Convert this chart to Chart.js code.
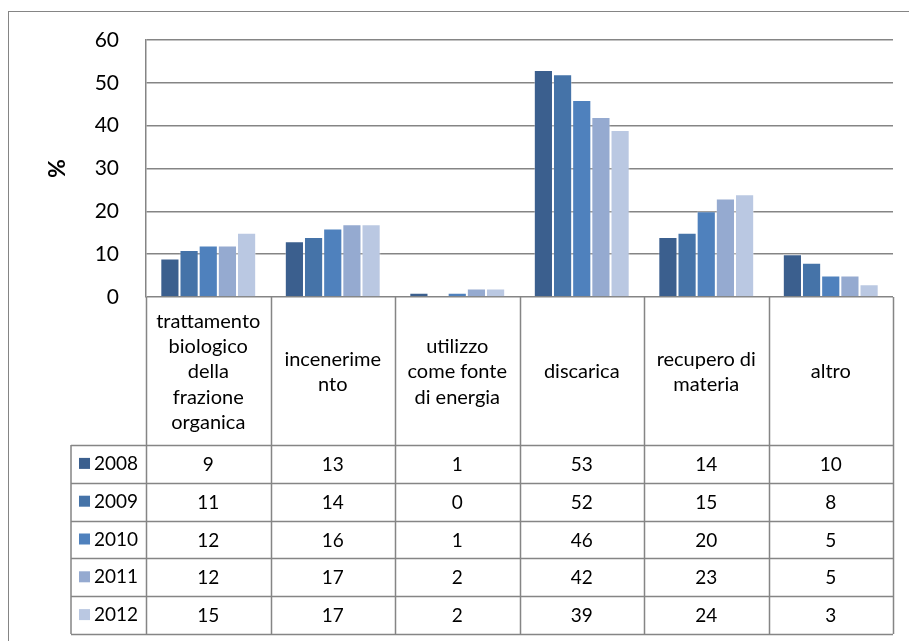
<!DOCTYPE html>
<html lang="it">
<head>
  <meta charset="UTF-8">
  <title>Rifiuti urbani per tipo di gestione</title>
  <script src="https://cdn.jsdelivr.net/npm/chart.js"></script>
  <style>
    body { margin: 0; background: #fff; }
    #box { width: 909px; height: 641px; }
  </style>
</head>
<body>
<div id="box">
  <canvas id="myChart" width="909" height="641"></canvas>
</div>

<script>
// categorie (etichette gia' spezzate su piu' righe come nella tabella)
const categorie = [
  ['trattamento', 'biologico', 'della', 'frazione', 'organica'],
  ['incenerime', 'nto'],
  ['utilizzo', 'come fonte', 'di energia'],
  ['discarica'],
  ['recupero di', 'materia'],
  ['altro']
];
const anni = ['2008', '2009', '2010', '2011', '2012'];

// percentuali per anno
const val2008 = [9, 13, 1, 53, 14, 10];
const val2009 = [11, 14, 0, 52, 15, 8];
const val2010 = [12, 16, 1, 46, 20, 5];
const val2011 = [12, 17, 2, 42, 23, 5];
const val2012 = [15, 17, 2, 39, 24, 3];

const yTicks = [0, 10, 20, 30, 40, 50, 60];

const valori = [val2008, val2009, val2010, val2011, val2012];
const colori = ['#3b5f8e', '#4573a8', '#4f81bd', '#95aad0', '#bac8e2'];

const grigio = '#858585';
const font = 'Lato, "Open Sans", sans-serif';

// tabella dati sotto il grafico + cornice esterna
const tabellaDati = {
  id: 'tabellaDati',
  beforeDraw(chart) {
    const ctx = chart.ctx;
    ctx.save();
    ctx.strokeStyle = grigio;
    ctx.lineWidth = 1;
    ctx.strokeRect(8.5, 11.5, 1000, 1000);
    ctx.restore();
  },
  afterDraw(chart) {
    const { ctx, chartArea } = chart;
    const x = chart.scales.x;
    const n = categorie.length;
    const passo = (chartArea.right - chartArea.left) / n;
    const top = chartArea.bottom;
    const altIntest = 148;
    const altRiga = 37.8;
    const righeTop = top + altIntest;
    const fondo = righeTop + altRiga * anni.length;
    const sx = chartArea.left - 75;

    ctx.save();
    ctx.strokeStyle = grigio;
    ctx.lineWidth = 1.5;

    // verticali
    ctx.beginPath();
    for (let i = 0; i <= n; i++) {
      const px = Math.round(chartArea.left + passo * i) + 0.5;
      ctx.moveTo(px, top);
      ctx.lineTo(px, fondo);
    }
    ctx.moveTo(sx, righeTop);
    ctx.lineTo(sx, fondo);
    // orizzontali
    for (let r = 0; r <= anni.length; r++) {
      const py = Math.round(righeTop + altRiga * r) + 0.5;
      ctx.moveTo(sx, py);
      ctx.lineTo(chartArea.right, py);
    }
    ctx.stroke();

    ctx.fillStyle = '#000';
    ctx.textAlign = 'center';
    ctx.textBaseline = 'middle';

    // intestazioni categorie
    ctx.font = '20px ' + font;
    const interl = 25.3;
    categorie.forEach((righe, i) => {
      const cx = x.getPixelForValue(i);
      const cy = top + altIntest / 2 + 1;
      righe.forEach((t, k) => {
        ctx.fillText(t, cx, cy + (k - (righe.length - 1) / 2) * interl);
      });
    });

    // righe dei valori
    ctx.font = '19px ' + font;
    anni.forEach((anno, r) => {
      const cy = righeTop + altRiga * r + altRiga / 2;
      ctx.fillStyle = colori[r];
      ctx.fillRect(sx + 8, cy - 6, 11, 11);
      ctx.fillStyle = '#000';
      ctx.textAlign = 'left';
      ctx.fillText(anno, sx + 23, cy);
      ctx.textAlign = 'center';
      valori[r].forEach((v, i) => {
        ctx.fillText(String(v), x.getPixelForValue(i), cy + 1);
      });
    });
    ctx.restore();
  }
};

const data = {
  labels: categorie.map(c => c.join(' ')),
  datasets: anni.map((anno, i) => ({
    label: anno,
    data: valori[i],
    backgroundColor: colori[i],
    borderColor: 'rgba(255,255,255,0.35)',
    borderWidth: 1,
    categoryPercentage: 0.77,
    barPercentage: 1.0
  }))
};

const config = {
  type: 'bar',
  data,
  options: {
    responsive: false,
    animation: false,
    layout: { padding: { top: 40, right: 16, bottom: 344, left: 0 } },
    plugins: {
      legend: { display: false },
      tooltip: { enabled: false }
    },
    scales: {
      x: { display: false },
      y: {
        min: 0,
        max: 60,
        afterFit(scale) { scale.width = 146; },
        afterBuildTicks(scale) { scale.ticks = yTicks.map(v => ({ value: v })); },
        ticks: {
          padding: 27,
          color: '#000',
          font: { family: font, size: 21 }
        },
        grid: { color: grigio, lineWidth: 1.5, drawTicks: false },
        border: { display: true, color: grigio, width: 1.5 },
        title: {
          display: true,
          text: '%',
          color: '#000',
          font: { family: font, size: 23, weight: 'bold' },
          padding: { top: 44, bottom: 0 }
        }
      }
    }
  },
  plugins: [tabellaDati]
};

new Chart(document.getElementById('myChart'), config);
</script>
</body>
</html>
